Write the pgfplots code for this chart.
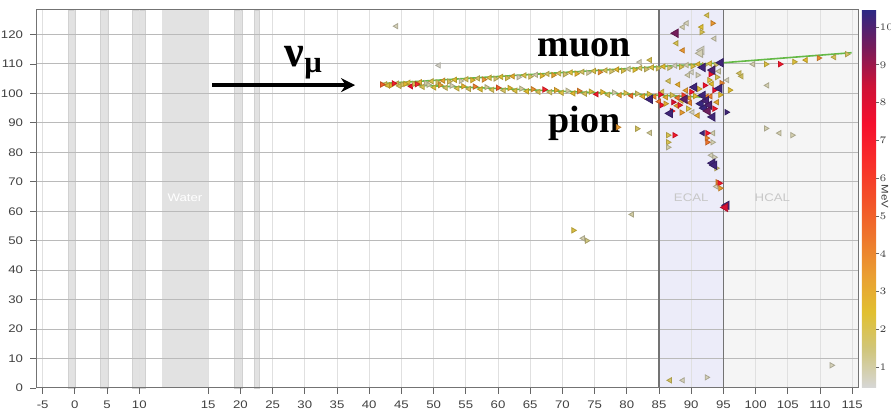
\documentclass[border=0pt]{standalone}
\usepackage{fontspec}
\setmainfont{Liberation Sans}
\newfontfamily\tickfont[FakeStretch=1.2]{Liberation Sans}
\newfontfamily\labelfont{Liberation Serif}
\usepackage{pgfplots}
\usepackage{pgfplotstable}
\pgfplotsset{compat=1.18}
\usetikzlibrary{arrows.meta}

\definecolor{trackgreen}{RGB}{100,185,70}
\definecolor{ecalfill}{RGB}{236,236,249}
\definecolor{hcalfill}{RGB}{245,245,245}
\definecolor{bandfill}{RGB}{226,226,226}

\pgfplotsset{colormap={mev}{
  rgb255=(215,215,215) rgb255=(208,198,125) rgb255=(225,192,48)
  rgb255=(234,158,50) rgb255=(238,118,45) rgb255=(243,80,40)
  rgb255=(248,45,42) rgb255=(245,15,45) rgb255=(205,18,55)
  rgb255=(120,28,90) rgb255=(45,40,132)}}

% hits drawn as left-pointing triangles
\pgfplotstableread{
x y e
42.5 103.1 2.0
44.3 103.3 1.9
46.1 103.6 2.3
47.9 103.8 2.8
49.7 104.1 2.1
51.5 104.3 3.2
53.3 104.6 2.4
55.1 104.8 2.0
56.9 105.1 1.8
58.7 105.3 2.2
60.5 105.6 2.4
62.3 105.8 3.0
64.1 106.1 2.1
65.9 106.3 1.0
67.7 106.6 1.9
69.5 106.8 2.0
71.3 107.1 2.3
73.1 107.3 1.8
74.9 107.6 2.1
76.7 107.8 2.0
78.5 108.1 2.7
80.3 108.3 1.1
82.1 108.6 1.9
83.9 108.8 2.2
85.7 109.1 2.6
87.5 109.4 0.8
89.3 109.6 1.0
91.1 109.9 2.7
92.9 110.1 2.3
42.9 102.7 2.3
44.7 102.5 1.9
46.5 102.4 7.5
48.3 102.2 2.0
50.1 102.0 2.3
51.9 101.9 1.8
53.7 101.7 2.1
55.5 101.5 1.9
57.3 101.4 2.4
59.1 101.2 2.0
60.9 101.0 1.8
62.7 100.9 2.2
64.5 100.7 2.5
66.3 100.5 2.0
68.1 100.4 1.8
69.9 100.2 2.2
71.7 100.0 2.6
73.5 99.9 1.9
75.3 99.7 7.0
77.1 99.5 2.0
78.9 99.4 3.3
80.7 99.2 4.6
82.5 99.0 2.9
84.3 98.9 4.0
86.1 98.7 3.0
87.9 98.5 4.5
89.7 98.4 3.5
92.4 98.9 4.0
44.2 122.8 0.8
50.8 109.5 0.6
83.6 86.6 1.2
80.8 58.9 1.0
73.2 50.8 0.9
103.7 86.5 0.9
101.8 102.7 0.9
86.7 2.6 1.8
88.7 2.6 0.8
89.3 123.8 0.8
88.7 122.5 0.9
92.5 126.5 2.0
91.6 122.5 2.4
87.7 117.0 2.0
88.7 114.6 3.6
93.6 118.6 0.8
82.0 110.6 0.8
83.6 111.3 2.0
97.8 105.8 1.8
95.6 104.5 0.8
93.1 79.0 0.8
93.4 86.5 0.9
93.9 68.4 0.8
91.8 86.5 10.2
90.1 107.2 0.7
89.5 106.2 0.9
94.3 107.5 1.0
88.5 97.5 2.2
85.0 97.2 4.5
87.8 95.8 3.5
89.8 96.8 4.0
90.2 93.6 0.8
89.2 101.0 3.3
93.0 99.0 4.2
94.0 97.0 3.2
86.5 104.2 1.8
88.0 103.0 3.0
93.2 103.2 2.5
85.5 100.5 2.0
91.0 92.5 3.0
97.5 106.8 1.8
99.6 109.9 0.9
107.8 111.3 2.6
112.2 112.3 2.0
}\hitsleft

% hits drawn as right-pointing triangles
\pgfplotstableread{
x y e
43.4 102.7 2.7
45.2 103.0 1.8
47.0 103.2 2.0
48.8 103.5 1.0
50.6 103.7 1.8
52.4 104.0 1.9
54.2 104.2 0.9
56.0 104.5 2.7
57.8 104.7 3.6
59.6 105.0 1.7
61.4 105.2 2.0
63.2 105.5 0.8
65.0 105.7 1.8
66.8 106.0 2.6
68.6 106.2 3.2
70.4 106.5 1.7
72.2 106.7 2.8
74.0 107.0 1.1
75.8 107.2 3.8
77.6 107.5 1.7
79.4 107.7 2.1
81.2 108.0 2.4
83.0 108.2 1.7
84.8 108.5 1.8
86.6 108.7 1.6
88.4 109.0 2.0
90.2 109.2 2.2
92.0 109.5 1.8
93.8 109.7 1.7
42.0 103.0 5.0
43.8 103.4 7.0
45.6 103.2 2.7
47.4 103.1 6.5
49.2 102.9 1.0
51.0 102.8 3.4
52.8 102.6 0.9
54.6 102.4 2.9
56.4 102.3 4.2
58.2 102.1 1.2
60.0 101.9 5.2
61.8 101.8 2.7
63.6 101.6 1.1
65.4 101.4 3.7
67.2 101.3 6.8
69.0 101.1 3.0
70.8 100.9 1.0
72.6 100.8 4.0
74.4 100.6 2.3
76.2 100.4 2.7
78.0 100.3 1.0
79.8 100.1 2.1
81.6 99.9 1.8
83.4 99.8 2.3
85.2 99.6 7.5
87.0 99.4 2.0
88.8 99.3 6.0
90.6 99.1 2.5
78.6 88.5 3.5
81.6 88.0 1.8
101.6 88.1 0.9
105.7 85.8 0.9
111.8 7.7 0.8
92.4 3.6 0.8
71.7 53.5 2.2
73.8 50.0 1.4
93.3 123.8 3.6
91.6 120.8 2.0
86.4 85.8 2.0
87.4 85.8 7.2
86.4 83.4 2.0
86.4 81.7 1.0
92.5 86.5 7.2
92.4 84.8 4.0
92.5 83.4 4.5
93.3 83.4 0.9
93.6 78.3 0.8
93.9 74.6 1.6
94.1 69.8 4.0
94.4 69.5 7.2
94.5 67.8 3.5
95.5 93.6 10.2
96.0 101.1 2.5
92.8 104.5 2.3
91.0 106.2 0.8
93.0 106.5 7.5
94.0 105.5 2.0
92.1 102.7 7.5
94.7 103.5 4.0
85.4 96.0 7.5
86.0 96.5 3.0
87.2 97.0 8.0
88.2 96.0 7.0
89.5 94.8 2.2
90.0 100.5 7.2
91.2 101.5 2.5
93.6 101.1 7.6
93.6 94.8 7.2
94.5 99.5 2.6
87.0 94.0 7.0
88.5 93.5 3.5
101.6 109.9 2.2
103.8 109.9 7.2
106.0 110.7 2.3
109.8 112.0 3.8
114.2 113.3 1.8
}\hitsright

% larger deposits
\pgfplotstableread{
x y e
83.6 98.0 10.2
86.7 93.2 10.2
87.6 120.4 9.5
89.0 98.0 9.8
90.5 102.1 10.2
91.5 96.5 10.3
92.0 95.0 10.3
92.3 97.5 10.1
91.8 99.3 10.2
92.8 96.0 10.0
92.6 94.0 9.6
94.4 101.7 10.2
93.3 92.0 10.2
91.8 108.8 10.2
93.3 107.9 10.0
93.3 76.3 10.2
93.6 75.6 10.2
95.5 62.0 10.2
95.3 61.3 8.2
91.6 114.6 0.7
91.4 113.6 0.8
94.6 110.4 10.2
}\hitsbig

\begin{document}
\begin{tikzpicture}
\begin{axis}[
  name=ax, set layers=standard,
  scale only axis, width=411pt, height=189pt,
  x coord trafo/.code={\pgfmathparse{#1<13.5 ? #1 : (#1<15 ? 13.5+4.8*(#1-13.5) : #1+5.7)}},
  xmin=-6.04, xmax=115.9, ymin=0, ymax=128.3,
  xtick={-5,0,5,10,15,20,25,30,35,40,45,50,55,60,65,70,75,80,85,90,95,100,105,110,115},
  xticklabels={-5,0,5,10,15,20,25,30,35,40,45,50,55,60,65,70,75,80,85,90,95,100,105,110,115},
  ytick={0,10,...,120},
  tick pos=left, tick align=outside, major tick length=3pt,
  tick style={black!60, line width=0.4pt},
  grid=major,
  x grid style={black!12, line width=0.4pt},
  y grid style={black!27, line width=0.5pt},
  axis line style={black!55, line width=0.5pt},
  ticklabel style={font=\tickfont\fontsize{5.5}{6}\selectfont, text=black!75},
  /pgf/number format/assume math mode=true,
  colormap name=mev, point meta min=0.45, point meta max=10.45,
  colorbar,
  colorbar shift/.style={xshift=2pt},
  colorbar style={
    scale only axis,
    at={(parent axis.north east)}, anchor=north west,
    width=7pt, ytick={1,...,10},
    ytick pos=right, yticklabel pos=right,
    tick align=outside, major tick length=1.5pt,
    axis line style={draw=none},
    yticklabel style={font=\tickfont\fontsize{4.8}{6}\selectfont, text=black!75, xshift=-3.2pt},
  },
]
\begin{pgfonlayer}{axis background}
  \fill[hcalfill] (axis cs:95,0) rectangle (axis cs:115.9,128.3);
  \fill[ecalfill] (axis cs:85,0) rectangle (axis cs:95,128.3);
  \fill[bandfill, draw=black!18] (axis cs:-1.0,0) rectangle (axis cs:0.15,128.3);
  \fill[bandfill, draw=black!18] (axis cs:4.0,0) rectangle (axis cs:5.15,128.3);
  \fill[bandfill, draw=black!18] (axis cs:9.0,0) rectangle (axis cs:11.0,128.3);
  \fill[bandfill] (axis cs:13.5,0) rectangle (axis cs:15,128.3);
  \fill[bandfill, draw=black!18] (axis cs:19.0,0) rectangle (axis cs:20.3,128.3);
  \fill[bandfill, draw=black!18] (axis cs:22.1,0) rectangle (axis cs:23.0,128.3);
\end{pgfonlayer}
\draw[black!55, line width=0.7pt] (axis cs:85,0) -- (axis cs:85,128.3);
\draw[black!55, line width=0.7pt] (axis cs:95,0) -- (axis cs:95,128.3);

\node[text=white, font=\tickfont\fontsize{5.5}{6}\selectfont] at (axis cs:14.25,64.5) {Water};
\node[text=black!22, font=\tickfont\fontsize{5.5}{6}\selectfont] at (axis cs:90,64.5) {ECAL};
\node[text=black!22, font=\tickfont\fontsize{5.5}{6}\selectfont] at (axis cs:102.6,64.5) {HCAL};

\addplot[scatter, only marks, mark=triangle*, point meta=explicit,
  mark size=1.5pt, mark options={rotate=90}]
  table[x=x, y=y, meta=e] {\hitsleft};
\addplot[scatter, only marks, mark=triangle*, point meta=explicit,
  mark size=1.5pt, mark options={rotate=-90}]
  table[x=x, y=y, meta=e] {\hitsright};
\addplot[scatter, only marks, mark=triangle*, point meta=explicit,
  mark size=2.4pt, mark options={rotate=90}]
  table[x=x, y=y, meta=e] {\hitsbig};

\addplot[trackgreen, line width=0.8pt] coordinates {(41.8,103.3) (95,110.4) (114.9,113.8)};
\addplot[trackgreen, line width=0.8pt] coordinates {(41.8,103.3) (93.2,98.6)};

\draw[black, line width=2pt, -{Stealth[length=7pt, width=7pt]}] (axis cs:15.6,102.8) -- (axis cs:37.8,102.8);
\node[anchor=base west, font=\labelfont\bfseries\fontsize{22}{24}\selectfont, inner sep=0pt]
  at (axis cs:26.8,109.2) {ν\textsubscript{μ}};
\node[anchor=base, font=\labelfont\bfseries\fontsize{19}{21}\selectfont, inner sep=0pt]
  at (axis cs:73.4,112.4) {muon};
\node[anchor=base, font=\labelfont\bfseries\fontsize{19}{21}\selectfont, inner sep=0pt]
  at (axis cs:73.4,86.6) {pion};
\end{axis}
\node[rotate=-90, inner sep=0pt, font=\tickfont\fontsize{4.8}{6}\selectfont, text=black!75]
  at ([shift={(424.5pt,95.8pt)}]ax.south west) {MeV};
\pgfresetboundingbox
\path ([shift={(-18pt,-11pt)}]ax.south west) rectangle ++(445.5pt,205pt);
\end{tikzpicture}
\end{document}
